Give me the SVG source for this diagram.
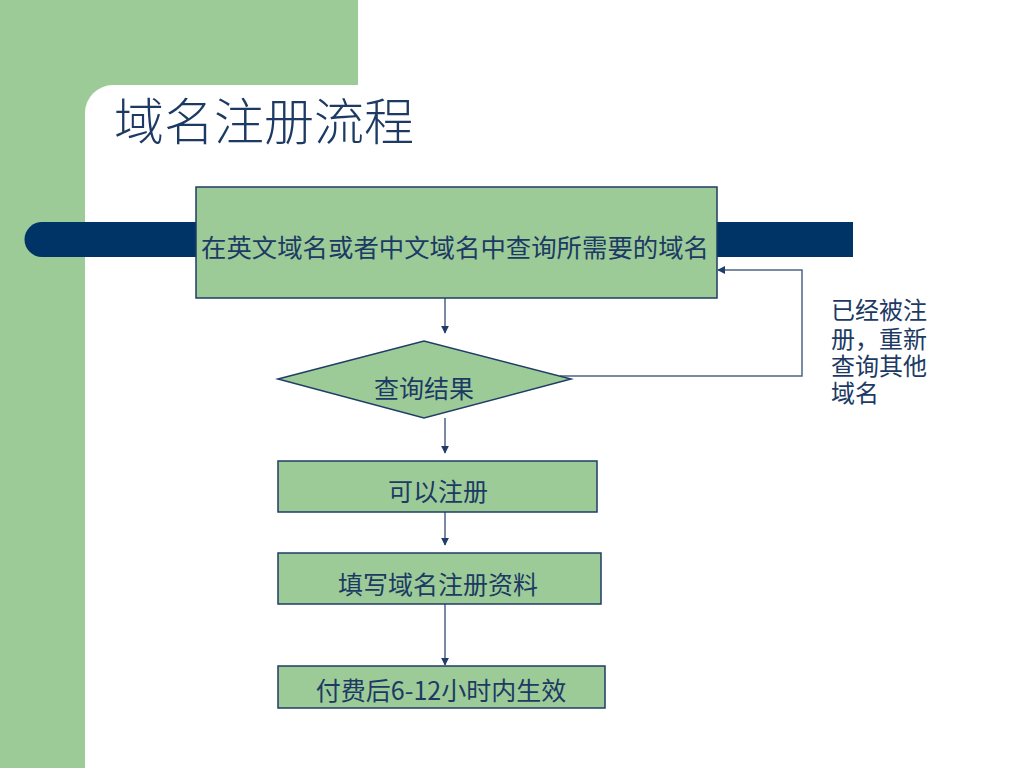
<svg xmlns="http://www.w3.org/2000/svg" width="1024" height="768" viewBox="0 0 1024 768">
  <defs>
    <style>
      .node { fill: #9ccb98; stroke: #1f3d66; stroke-width: 1.5; }
      .lbl { font-family: "Noto Sans CJK SC", "Noto Sans", sans-serif; font-size: 25px; fill: #1c3a63; text-anchor: middle; }
      .side { font-family: "Noto Sans CJK SC", "Noto Sans", sans-serif; font-size: 24px; fill: #1c3a63; }
      .title { font-family: "Noto Sans CJK SC", "Liberation Serif", serif; font-size: 50px; font-weight: 300; fill: #1c3a63; }
      .conn { fill: none; stroke: #4d6585; stroke-width: 1.5; }
    </style>
    <marker id="arr" viewBox="0 0 10 10" refX="9" refY="5" markerWidth="8" markerHeight="8" orient="auto" markerUnits="userSpaceOnUse">
      <path d="M0,0 L10,5 L0,10 z" fill="#1f3d66"/>
    </marker>
  </defs>

  <g id="background">
    <rect x="0" y="0" width="1024" height="768" fill="#ffffff"/>
    <rect x="0" y="0" width="358" height="120" fill="#9ccb98"/>
    <rect x="0" y="0" width="85" height="768" fill="#9ccb98"/>
    <rect x="85" y="85" width="1000" height="720" rx="28" ry="28" fill="#ffffff"/>
    <path d="M42,222 H853 V257 H42 A17.5,17.5 0 0 1 42,222 Z" fill="#003366"/>
  </g>

  <g id="title">
    <text class="title" x="114" y="140">域名注册流程</text>
  </g>

  <g id="connectors">
    <line class="conn" x1="445" y1="298" x2="445" y2="333" marker-end="url(#arr)"/>
    <line class="conn" x1="445" y1="418" x2="445" y2="453" marker-end="url(#arr)"/>
    <line class="conn" x1="445" y1="512" x2="445" y2="545" marker-end="url(#arr)"/>
    <line class="conn" x1="445" y1="604" x2="445" y2="665" marker-end="url(#arr)"/>
    <polyline class="conn" points="560,376 802,376 802,270 718,270" marker-end="url(#arr)"/>
  </g>

  <g id="node-search">
    <rect class="node" x="196" y="187" width="521" height="111"/>
    <text class="lbl" x="455" y="257" textLength="508" lengthAdjust="spacingAndGlyphs">在英文域名或者中文域名中查询所需要的域名</text>
  </g>

  <g id="node-result">
    <polygon class="node" points="278,379 424,341 571,379 424,418"/>
    <text class="lbl" x="424" y="398">查询结果</text>
  </g>

  <g id="node-available">
    <rect class="node" x="278" y="461" width="319" height="51"/>
    <text class="lbl" x="438" y="501">可以注册</text>
  </g>

  <g id="node-fill">
    <rect class="node" x="278" y="553" width="323" height="51"/>
    <text class="lbl" x="438" y="594">填写域名注册资料</text>
  </g>

  <g id="node-pay">
    <rect class="node" x="278" y="666" width="327" height="42"/>
    <text class="lbl" x="441" y="700">付费后6-12小时内生效</text>
  </g>

  <g id="side-label">
    <text class="side" x="831" y="319">已经被注<tspan x="831" y="348">册，重新</tspan><tspan x="831" y="375">查询其他</tspan><tspan x="831" y="402">域名</tspan></text>
  </g>
</svg>
